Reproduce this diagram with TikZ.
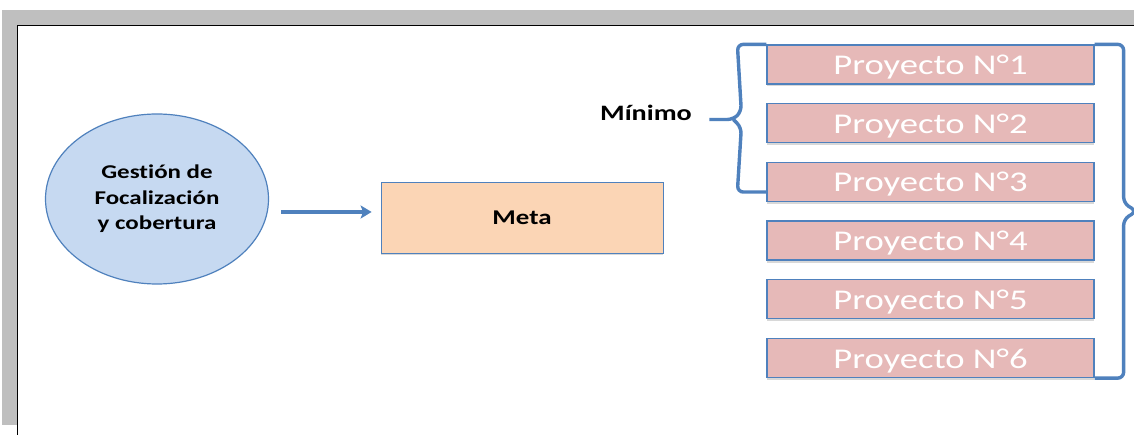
\documentclass[tikz,border=0pt]{standalone}
\usepackage{fontspec}
\setmainfont[FakeStretch=1.28,Ligatures=NoCommon]{Carlito}
\usepackage{tikz}
\usetikzlibrary{arrows.meta,calc,positioning,shapes.geometric,shadows}
\definecolor{lineblue}{HTML}{4F81BD}
\definecolor{ovalblue}{HTML}{C6D9F1}
\definecolor{peach}{HTML}{FBD5B5}
\definecolor{rose}{HTML}{E6B9B8}
\definecolor{framegray}{HTML}{BFBFBF}
\tikzset{
    flow/.style={>={Stealth[length=11pt,width=13pt,inset=2.5pt]},x=1pt,y=-1pt},
    gestion/.style={ellipse, draw=lineblue, line width=1.2pt, fill=ovalblue,
                    minimum width=223pt, minimum height=170pt, inner sep=0pt,
                    align=center, font=\bfseries\fontsize{19.5}{25.5}\selectfont},
    goal/.style={rectangle, draw=lineblue, line width=0.8pt, fill=peach,
                 minimum width=282pt, minimum height=71pt,
                 drop shadow={shadow xshift=0pt, shadow yshift=-2.5pt, opacity=0.3},
                 font=\bfseries\fontsize{21}{24}\selectfont},
    proyecto/.style={rectangle, draw=lineblue, line width=1.3pt, fill=rose,
                     minimum width=327pt, minimum height=39pt, inner sep=0pt,
                     text height=20pt, text depth=0pt,
                     text=white, font=\fontsize{28.6}{30}\selectfont,
                     drop shadow={shadow xshift=0pt, shadow yshift=-2.5pt, opacity=0.3}},
    tag/.style={font=\bfseries\fontsize{22}{24}\selectfont},
    brace/.style={draw=lineblue, line width=3.4pt, rounded corners=6pt},
    flecha/.style={->, draw=lineblue, line width=3.2pt},
    }

\begin{document}
\begin{tikzpicture}[flow]
    \useasboundingbox (0,0) rectangle (1134,435);
    % page frame
    \fill[framegray] (2,10) rectangle (1134,425);
    \fill[white] (17,25) rectangle (1134,435);
    \draw[line width=1.5pt] (17.5,435) -- (17.5,25.5) -- (1134,25.5);

    \node[gestion] (gest) at (157,199) {Gestión de\\Focalización\\y cobertura};
    \node[goal] (meta) at (522,217.5) {Meta};
    \draw[flecha] ($(gest.east)+(12,13)$) -- ($(meta.west)+(-9,-5.5)$);

    % projects
    \foreach \i in {1,...,6}
        \node[proyecto] (p\i) at (930.5,{64.5+58.7*(\i-1)}) {Proyecto N°\i};

    \node[tag] (minimo) at (646,113) {Mínimo};
    \coordinate (ltip) at ($(minimo.east)+(14,6.5)$);
    \coordinate (lend) at ($(p3.south west)+(0,-10)$);
    \coordinate (rtip) at ($(p1.north east)!0.5!(p6.south east)+(42,0)$);

    % braces
    \draw[brace] (p1.north west) -- ++(-29,0) -- ($(ltip)+(32,-8)$)
        -- ($(ltip)+(24,0)$) -- (ltip);
    \draw[brace] (lend) -- ++(-29,0) -- ($(ltip)+(32,8)$)
        -- ($(ltip)+(24,0)$);
    \draw[brace] (p1.north east) -- ++(29,0) -- ($(rtip)+(-13,-8)$)
        -- (rtip) -- ($(rtip)+(-13,8)$) -- ($(p6.south east)+(29,0)$)
        -- (p6.south east);
\end{tikzpicture}
\end{document}
